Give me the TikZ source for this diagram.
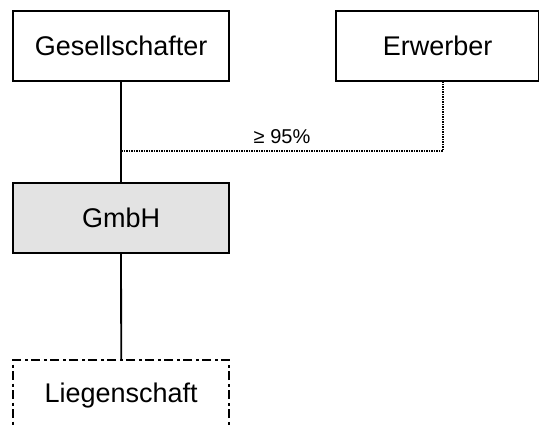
\documentclass[tikz,border=0pt]{standalone}
\usepackage{fontspec}
\setmainfont{Liberation Sans}
\begin{document}
\begin{tikzpicture}[x=1pt,y=-1pt,
  entity/.style={draw=black, line width=2.1pt, minimum width=216pt, minimum height=70pt,
    inner sep=0pt, font=\fontsize{27}{32}\selectfont, anchor=north west},
  company/.style={entity, fill=gray!22},
  asset/.style={entity, line width=2.4pt, dash pattern=on 9pt off 3.5pt on 3pt off 3.5pt},
  link/.style={line width=1.8pt},
  share/.style={line width=1.2pt, dash pattern=on 1.5pt off 1pt}
]
\useasboundingbox (0,0) rectangle (539,427);
\clip (0,0) rectangle (539,427);
\node[entity] (ges) at (12,10) {Gesellschafter};
\node[entity, minimum width=203pt] (erw) at (335,10) {Erwerber};
\node[company] (gmbh) at (12,182) {GmbH};
\node[asset] (lieg) at (12,359) {Liegenschaft};
\coordinate (junction) at (ges.south |- 0,151);
\draw[link] (ges.south) -- (gmbh.north);
\draw[link] (gmbh.south) -- (lieg.north);
\draw[share] (junction) -| (erw.south -| 443,0)
  node[pos=0.25, above=3pt, font=\fontsize{20}{24}\selectfont] (pct) {≥ 95\%};
\end{tikzpicture}
\end{document}
